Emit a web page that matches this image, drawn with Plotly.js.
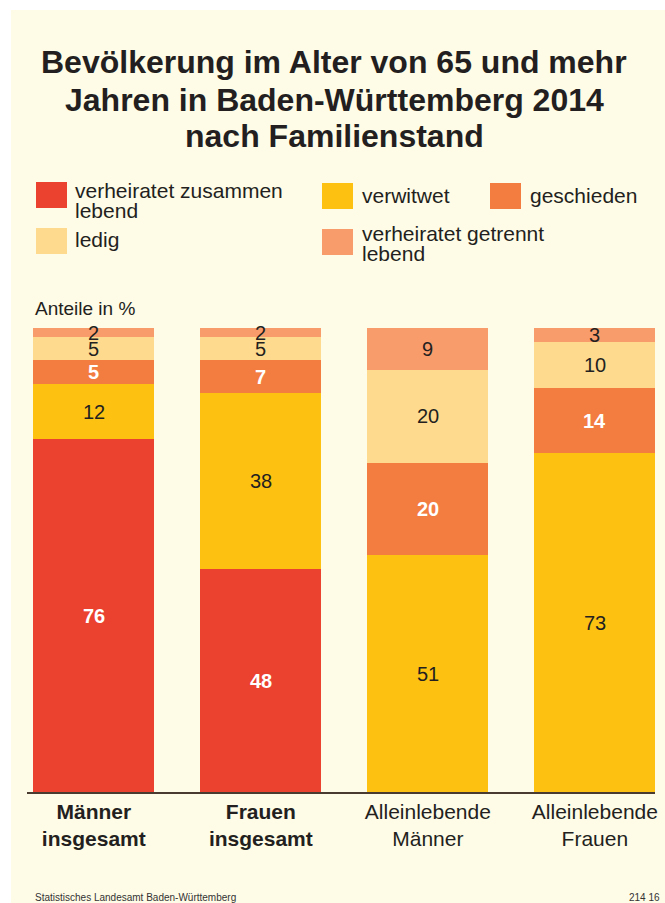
<!DOCTYPE html>
<html>
<head>
<meta charset="utf-8">
<script src="https://cdn.plot.ly/plotly-3.0.1.min.js"></script>
<style>
  html, body { margin: 0; padding: 0; background: #ffffff; }
  #chart { width: 665px; height: 903px; }
</style>
</head>
<body>
<div id="chart"></div>
<script>
// ---- data ----
const categories = ["Männer insgesamt", "Frauen insgesamt", "Alleinlebende Männer", "Alleinlebende Frauen"];
const tickLabels = ["<b>Männer</b><br><b>insgesamt</b>", "<b>Frauen</b><br><b>insgesamt</b>", "Alleinlebende<br>Männer", "Alleinlebende<br>Frauen"];
const verheiratetZusammen = [76, 48, 0, 0];
const verwitwet = [12, 38, 51, 73];
const geschieden = [5, 7, 20, 14];
const ledig = [5, 5, 20, 10];
const verheiratetGetrennt = [2, 2, 9, 3];
const seriesNames = ["verheiratet zusammen lebend", "verwitwet", "geschieden", "ledig", "verheiratet getrennt lebend"];
const titleLines = ["Bevölkerung im Alter von 65 und mehr", "Jahren in Baden-Württemberg 2014", "nach Familienstand"];
const unitLabel = "Anteile in %";
const sourceText = "Statistisches Landesamt Baden-Württemberg";
const codeText = "214 16";

// ---- styles ----
const FONT = "Liberation Sans, Arial, Helvetica, sans-serif";
const TXT = "#231f20";
const CREAM = "#fefbe7";
const colors = ["#eb412f", "#fdc112", "#f37d41", "#fdda8e", "#f89c6c"];
const labelColors = ["#ffffff", TXT, "#ffffff", TXT, TXT];
const labelBold = [true, false, true, false, false];
const seriesValues = [verheiratetZusammen, verwitwet, geschieden, ledig, verheiratetGetrennt];

const W = 665, H = 903;
const M = {l: 27, r: 10, t: 328, b: 111};
const PW = W - M.l - M.r, PH = H - M.t - M.b;
const px = p => (p - M.l) / PW;           // pixel x -> paper x
const py = p => (H - M.b - p) / PH;       // pixel y -> paper y

const traces = seriesValues.map((vals, i) => ({
  type: "bar",
  name: seriesNames[i],
  x: categories,
  y: vals,
  marker: {color: colors[i], line: {width: 0}},
  showlegend: false,
  hoverinfo: "skip"
}));

const annotations = [];
// value labels, centred in each segment
const cum = categories.map(() => 0);
seriesValues.forEach((vals, i) => {
  vals.forEach((v, j) => {
    if (v > 0) {
      annotations.push({
        x: categories[j], y: cum[j] + v / 2, xref: "x", yref: "y",
        text: labelBold[i] ? "<b>" + v + "</b>" : String(v),
        showarrow: false, xanchor: "center", yanchor: "middle",
        font: {family: FONT, size: 20, color: labelColors[i]}
      });
    }
    cum[j] += v;
  });
});

// title lines
const titleY = [62, 100, 136];
titleLines.forEach((t, i) => {
  annotations.push({
    xref: "paper", yref: "paper", x: px(334), y: py(titleY[i]),
    text: "<b>" + t + "</b>", showarrow: false, xanchor: "center", yanchor: "middle",
    font: {family: FONT, size: 32, color: TXT}
  });
});

// legend (manual)
const legendItems = [
  {s: 0, sx: 36, sy: 182, tx: 73, lines: ["verheiratet zusammen", "lebend"], ly: 190},
  {s: 1, sx: 322, sy: 183, tx: 360, lines: ["verwitwet"], ly: 195},
  {s: 2, sx: 490, sy: 183, tx: 528, lines: ["geschieden"], ly: 195},
  {s: 3, sx: 36, sy: 228, tx: 73, lines: ["ledig"], ly: 240},
  {s: 4, sx: 322, sy: 229, tx: 360, lines: ["verheiratet getrennt", "lebend"], ly: 233}
];
const shapes = [
  {type: "rect", xref: "paper", yref: "paper", x0: px(11), x1: px(W + 5), y0: py(10), y1: py(H + 5),
   fillcolor: CREAM, line: {width: 0}, layer: "below"}
];
legendItems.forEach(it => {
  shapes.push({type: "rect", xref: "paper", yref: "paper",
    x0: px(it.sx), x1: px(it.sx + 31), y0: py(it.sy), y1: py(it.sy + 26),
    fillcolor: colors[it.s], line: {width: 0}});
  it.lines.forEach((ln, k) => {
    annotations.push({xref: "paper", yref: "paper", x: px(it.tx), y: py(it.ly + k * 21),
      text: ln, showarrow: false, xanchor: "left", yanchor: "middle",
      font: {family: FONT, size: 21, color: TXT}});
  });
});

annotations.push({xref: "paper", yref: "paper", x: px(33), y: py(308), text: unitLabel,
  showarrow: false, xanchor: "left", yanchor: "middle", font: {family: FONT, size: 19, color: TXT}});
annotations.push({xref: "paper", yref: "paper", x: px(33), y: py(897), text: sourceText,
  showarrow: false, xanchor: "left", yanchor: "middle", font: {family: FONT, size: 10, color: "#333333"}});
annotations.push({xref: "paper", yref: "paper", x: px(662), y: py(897), text: codeText,
  showarrow: false, xanchor: "right", yanchor: "middle", font: {family: FONT, size: 10, color: "#333333"}});

const layout = {
  width: W, height: H,
  margin: M,
  paper_bgcolor: "#ffffff",
  plot_bgcolor: "rgba(0,0,0,0)",
  barmode: "stack",
  bargap: 0.275,
  showlegend: false,
  font: {family: FONT, color: TXT},
  xaxis: {
    type: "category", range: [-0.4, 3.36],
    tickvals: categories, ticktext: tickLabels,
    showline: true, linecolor: "#4a3b30", linewidth: 1.5,
    ticks: "", showgrid: false, zeroline: false,
    tickfont: {family: FONT, size: 21, color: TXT}, fixedrange: true
  },
  yaxis: {range: [0, 100], visible: false, fixedrange: true},
  shapes: shapes,
  annotations: annotations
};

Plotly.newPlot("chart", traces, layout, {displayModeBar: false, staticPlot: true});
</script>
</body>
</html>
